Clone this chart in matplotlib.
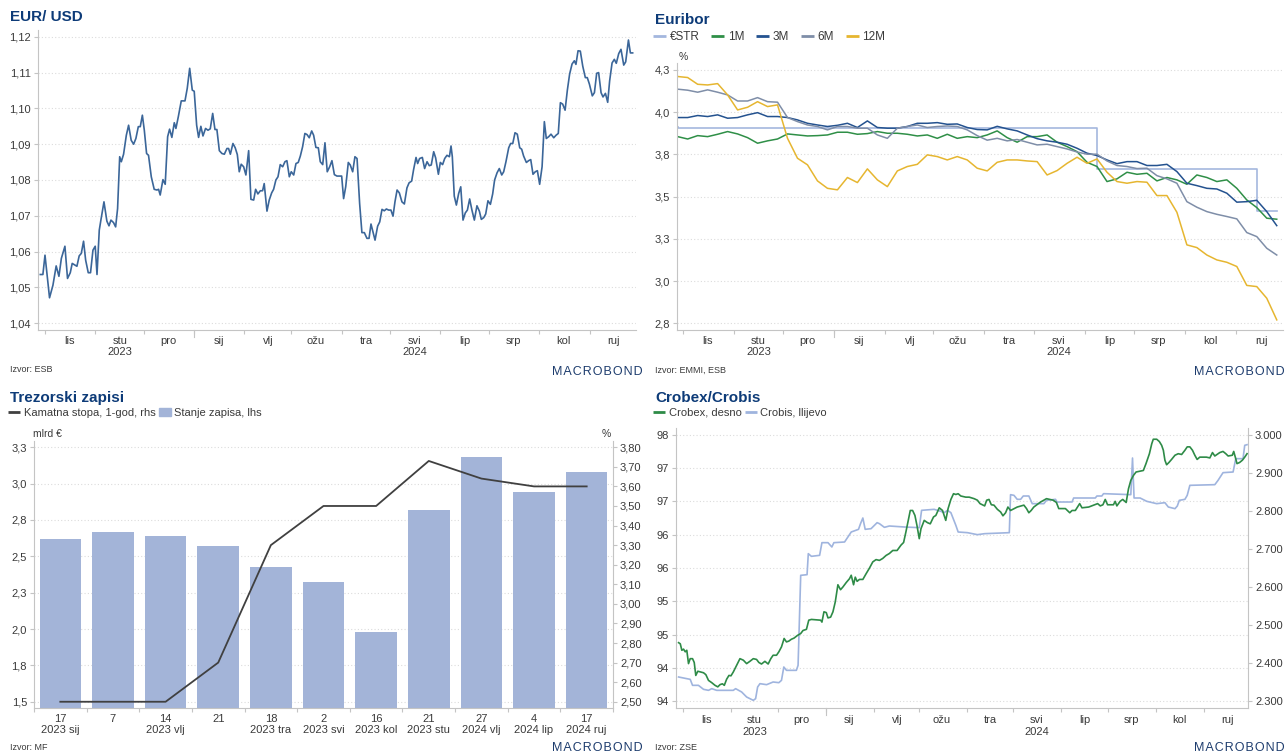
import numpy as np
import pandas as pd
import matplotlib
matplotlib.use("Agg")
import matplotlib.pyplot as plt
import matplotlib.dates as mdates
from matplotlib.lines import Line2D
from matplotlib.patches import Patch

plt.rcParams['font.family'] = ['Liberation Sans', 'DejaVu Sans']

# ---------------- data ----------------
month_labels = ['lis', 'stu\n2023', 'pro', 'sij', 'vlj', 'ožu', 'tra', 'svi\n2024',
                'lip', 'srp', 'kol', 'ruj']

# EUR/USD: (days after 2023-09-28, rate)
eur_usd = [
    (0.0, 1.0536), (1.6, 1.0536), (2.9, 1.0590), (5.7, 1.0471), (7.8, 1.0506), (9.8, 1.0560),
    (11.5, 1.0531), (13.0, 1.0581), (15.2, 1.0615), (16.8, 1.0525), (18.5, 1.0541), (19.7, 1.0567),
    (22.6, 1.0559), (24.0, 1.0588), (25.3, 1.0595), (26.7, 1.0629), (28.0, 1.0576), (29.6, 1.0541),
    (31.0, 1.0541), (32.5, 1.0604), (33.9, 1.0615), (35.0, 1.0536), (36.4, 1.0660), (37.4, 1.0688),
    (39.3, 1.0739), (41.1, 1.0685), (42.4, 1.0672), (43.6, 1.0688), (45.2, 1.0681), (46.5, 1.0669),
    (47.7, 1.0720), (49.0, 1.0865), (50.0, 1.0851), (51.4, 1.0872), (53.1, 1.0925), (54.5, 1.0953),
    (56.1, 1.0911), (57.6, 1.0900), (59.0, 1.0916), (60.5, 1.0949), (61.7, 1.0949), (63.0, 1.0981),
    (64.2, 1.0939), (65.6, 1.0874), (66.8, 1.0869), (68.5, 1.0809), (70.3, 1.0774), (72.0, 1.0772),
    (73.0, 1.0774), (74.0, 1.0758), (75.7, 1.0801), (77.1, 1.0788), (78.6, 1.0921), (79.8, 1.0942),
    (81.2, 1.0919), (82.7, 1.0960), (83.7, 1.0944), (85.2, 1.0977), (87.0, 1.1021), (89.3, 1.1021),
    (90.7, 1.1056), (92.2, 1.1112), (93.8, 1.1051), (95.0, 1.1048), (96.5, 1.0953), (97.7, 1.0919),
    (99.1, 1.0950), (100.4, 1.0923), (102.0, 1.0944), (103.5, 1.0939), (104.9, 1.0943), (106.4, 1.0986),
    (107.8, 1.0941), (109.0, 1.0941), (110.5, 1.0882), (112.1, 1.0874), (113.6, 1.0872), (115.2, 1.0888),
    (116.2, 1.0888), (117.3, 1.0872), (118.9, 1.0902), (120.3, 1.0890), (121.6, 1.0871), (122.8, 1.0823),
    (124.0, 1.0844), (125.5, 1.0837), (126.9, 1.0814), (128.6, 1.0882), (130.0, 1.0746), (131.7, 1.0744),
    (132.9, 1.0774), (134.3, 1.0761), (135.8, 1.0770), (137.2, 1.0770), (138.2, 1.0790), (139.9, 1.0713),
    (141.3, 1.0744), (142.8, 1.0764), (144.0, 1.0774), (145.4, 1.0800), (146.7, 1.0809), (148.1, 1.0843),
    (149.6, 1.0837), (151.0, 1.0851), (152.2, 1.0854), (153.7, 1.0809), (154.9, 1.0823), (156.4, 1.0814),
    (157.8, 1.0846), (159.2, 1.0849), (160.5, 1.0867), (161.9, 1.0893), (163.3, 1.0930), (164.6, 1.0927),
    (166.0, 1.0918), (167.5, 1.0937), (168.7, 1.0925), (170.1, 1.0891), (171.6, 1.0890), (172.8, 1.0851),
    (174.3, 1.0843), (175.7, 1.0904), (177.1, 1.0823), (178.6, 1.0837), (180.0, 1.0854), (181.5, 1.0815),
    (183.1, 1.0811), (186.0, 1.0811), (187.2, 1.0748), (188.5, 1.0781), (190.1, 1.0849), (191.3, 1.0842),
    (192.8, 1.0823), (194.2, 1.0865), (195.5, 1.0860), (197.1, 1.0734), (198.5, 1.0653), (200.0, 1.0653),
    (201.6, 1.0637), (202.9, 1.0637), (204.1, 1.0677), (205.3, 1.0655), (206.6, 1.0632), (208.2, 1.0671),
    (209.5, 1.0683), (210.9, 1.0718), (212.3, 1.0714), (213.6, 1.0719), (215.0, 1.0716), (216.4, 1.0716),
    (217.7, 1.0699), (218.9, 1.0739), (220.2, 1.0772), (221.6, 1.0764), (223.2, 1.0739), (224.7, 1.0733),
    (226.3, 1.0778), (227.6, 1.0792), (229.2, 1.0797), (230.4, 1.0829), (231.9, 1.0863), (232.9, 1.0846),
    (234.1, 1.0860), (235.8, 1.0863), (237.2, 1.0832), (238.7, 1.0851), (240.1, 1.0840), (241.3, 1.0842),
    (242.8, 1.0879), (244.0, 1.0862), (245.7, 1.0816), (246.9, 1.0849), (248.3, 1.0843), (249.6, 1.0860),
    (251.0, 1.0869), (252.5, 1.0865), (253.5, 1.0895), (254.3, 1.0865), (255.5, 1.0755), (256.8, 1.0730),
    (258.2, 1.0762), (259.5, 1.0781), (260.9, 1.0688), (262.3, 1.0708), (263.6, 1.0716), (265.0, 1.0747),
    (266.4, 1.0716), (267.9, 1.0688), (269.5, 1.0728), (271.0, 1.0713), (272.2, 1.0690), (273.7, 1.0695),
    (274.9, 1.0705), (276.3, 1.0742), (277.8, 1.0732), (279.2, 1.0761), (280.4, 1.0800), (281.9, 1.0820),
    (283.3, 1.0832), (284.8, 1.0814), (286.0, 1.0823), (287.4, 1.0851), (289.1, 1.0890), (290.3, 1.0902),
    (291.6, 1.0902), (293.0, 1.0932), (294.4, 1.0928), (295.9, 1.0890), (297.1, 1.0886), (298.3, 1.0867),
    (300.0, 1.0849), (301.4, 1.0854), (302.7, 1.0857), (304.1, 1.0816), (305.5, 1.0823), (306.8, 1.0826),
    (308.2, 1.0788), (309.7, 1.0837), (311.1, 1.0963), (312.3, 1.0916), (313.8, 1.0921), (315.2, 1.0928),
    (316.9, 1.0918), (318.3, 1.0925), (319.7, 1.0930), (321.0, 1.1016), (322.4, 1.1012), (323.9, 1.0995),
    (325.3, 1.1051), (326.7, 1.1096), (328.2, 1.1124), (329.6, 1.1133), (330.6, 1.1123), (331.9, 1.1161),
    (333.3, 1.1160), (334.8, 1.1118), (336.4, 1.1086), (337.6, 1.1086), (338.9, 1.1068), (340.7, 1.1035),
    (342.0, 1.1044), (343.4, 1.1098), (344.6, 1.1100), (346.1, 1.1044), (347.3, 1.1032), (348.8, 1.1042),
    (350.2, 1.1017), (351.4, 1.1077), (352.9, 1.1127), (354.3, 1.1137), (355.5, 1.1126), (357.0, 1.1153),
    (358.4, 1.1165), (360.1, 1.1121), (361.3, 1.1130), (363.0, 1.1191), (364.2, 1.1155), (365.6, 1.1155),
]

# Euribor, sampled roughly every 6 days between these dates (61 readings)
euribor_first, euribor_last = '2023-09-28', '2024-09-25 12:00'
estr = [3.910, 3.905, 3.905, 3.905, 3.905, 3.905, 3.905, 3.905, 3.905, 3.905, 3.905,
        3.905, 3.905, 3.905, 3.905, 3.905, 3.905, 3.905, 3.905, 3.905, 3.905, 3.905,
        3.905, 3.905, 3.905, 3.905, 3.905, 3.905, 3.905, 3.905, 3.905, 3.905, 3.905,
        3.905, 3.905, 3.905, 3.905, 3.905, 3.905, 3.905, 3.905, 3.905, 3.905, 3.664,
        3.664, 3.664, 3.664, 3.664, 3.664, 3.664, 3.664, 3.664, 3.664, 3.664, 3.664,
        3.664, 3.664, 3.664, 3.664, 3.415, 3.415]
eur1m = [3.855, 3.841, 3.861, 3.855, 3.869, 3.885, 3.871, 3.849, 3.816, 3.830, 3.841,
         3.871, 3.865, 3.859, 3.861, 3.865, 3.881, 3.881, 3.869, 3.873, 3.885, 3.875,
         3.875, 3.869, 3.859, 3.865, 3.845, 3.869, 3.845, 3.855, 3.849,
         3.865, 3.889, 3.849, 3.822, 3.855, 3.855, 3.865, 3.822, 3.796, 3.766, 3.703,
         3.678, 3.589, 3.605, 3.644, 3.632, 3.638, 3.593, 3.613, 3.599, 3.573, 3.628,
         3.613, 3.589, 3.599, 3.549, 3.480, 3.435, 3.372, 3.366]
eur3m = [3.968, 3.968, 3.980, 3.974, 3.984, 3.964, 3.968, 3.984, 3.997, 3.974, 3.974,
         3.968, 3.954, 3.934, 3.924, 3.915, 3.922, 3.934, 3.909, 3.948, 3.909, 3.905,
         3.905, 3.915, 3.934, 3.934, 3.938, 3.928, 3.930, 3.909, 3.897,
         3.895, 3.916, 3.901, 3.889, 3.865, 3.843, 3.830, 3.822, 3.810, 3.786, 3.757,
         3.743, 3.717, 3.695, 3.707, 3.707, 3.684, 3.684, 3.691, 3.648, 3.579, 3.565,
         3.549, 3.545, 3.520, 3.467, 3.470, 3.478, 3.411, 3.328]
eur6m = [4.136, 4.130, 4.118, 4.132, 4.118, 4.102, 4.066, 4.066, 4.086, 4.062, 4.059,
         3.968, 3.944, 3.924, 3.915, 3.895, 3.915, 3.915, 3.905, 3.905, 3.865, 3.845,
         3.905, 3.915, 3.924, 3.909, 3.915, 3.918, 3.915, 3.895, 3.861,
         3.834, 3.845, 3.830, 3.838, 3.822, 3.806, 3.810, 3.796, 3.782, 3.764, 3.751,
         3.751, 3.711, 3.684, 3.678, 3.666, 3.668, 3.624, 3.605, 3.579, 3.470, 3.437,
         3.411, 3.395, 3.382, 3.368, 3.287, 3.263, 3.194, 3.154]
eur12m = [4.211, 4.205, 4.165, 4.161, 4.169, 4.102, 4.013, 4.029, 4.062, 4.033, 4.043,
          3.845, 3.727, 3.688, 3.593, 3.549, 3.540, 3.613, 3.583, 3.664, 3.599, 3.559,
          3.652, 3.678, 3.691, 3.747, 3.737, 3.717, 3.737, 3.717, 3.668,
          3.652, 3.703, 3.717, 3.717, 3.711, 3.707, 3.628, 3.654, 3.697, 3.733, 3.697,
          3.723, 3.644, 3.589, 3.579, 3.589, 3.585, 3.506, 3.506, 3.407, 3.214, 3.198,
          3.154, 3.125, 3.111, 3.086, 2.974, 2.967, 2.898, 2.770]
euribor_names = ['€STR', '1M', '3M', '6M', '12M']

# Trezorski zapisi
bill_labels = ['17\n2023 sij', '7', '14\n2023 vlj', '21', '18\n2023 tra', '2\n2023 svi',
               '16\n2023 kol', '21\n2023 stu', '27\n2024 vlj', '4\n2024 lip', '17\n2024 ruj']
bill_stock = [2.62, 2.67, 2.64, 2.57, 2.43, 2.32, 1.98, 2.82, 3.18, 2.94, 3.08]   # mlrd EUR
bill_rate = [2.50, 2.50, 2.50, 2.70, 3.30, 3.50, 3.50, 3.73, 3.64, 3.60, 3.60]    # %

# Crobis (left) and Crobex (right): (days after 2023-09-28, value)
crobis = [
    (0.0, 94.365), (5.3, 94.34), (7.5, 94.33), (9.0, 94.24), (12.8, 94.24), (16.1, 94.18),
    (19.3, 94.165), (21.4, 94.19), (24.6, 94.165), (35.3, 94.165), (36.8, 94.19), (40.7, 94.14),
    (43.9, 94.065), (48.2, 94.015), (49.7, 94.04), (51.0, 94.215), (52.5, 94.265), (56.8, 94.25),
    (61.0, 94.29), (64.7, 94.28), (66.4, 94.315), (67.9, 94.515), (69.6, 94.465), (76.0, 94.465),
    (77.1, 94.54), (78.8, 95.89), (82.9, 95.90), (83.7, 96.215), (85.7, 96.175), (91.0, 96.19),
    (92.5, 96.38), (96.4, 96.38), (98.9, 96.315), (100.2, 96.38), (107.1, 96.39), (111.4, 96.54),
    (116.1, 96.58), (117.4, 96.665), (118.9, 96.75), (120.4, 96.58), (124.2, 96.59), (128.1, 96.68),
    (129.6, 96.665), (132.8, 96.61), (136.0, 96.63), (145.7, 96.615), (155.3, 96.605), (156.8, 96.865),
    (164.9, 96.88), (169.2, 96.85), (171.4, 96.83), (173.5, 96.865), (175.7, 96.83), (178.9, 96.64),
    (180.4, 96.54), (186.4, 96.53), (192.8, 96.50), (197.5, 96.515), (213.4, 96.53), (214.2, 97.10),
    (216.4, 97.09), (218.5, 97.03), (220.7, 97.03), (222.4, 97.08), (226.0, 97.08), (228.2, 96.965),
    (235.7, 96.965), (237.4, 97.015), (243.2, 97.03), (244.2, 96.99), (253.9, 96.99), (254.9, 97.05),
    (268.9, 97.05), (269.9, 97.08), (273.1, 97.08), (274.2, 97.115), (291.8, 97.10), (292.9, 97.65),
    (293.9, 97.05), (297.8, 97.05), (302.1, 97.00), (308.5, 96.965), (313.8, 96.98), (316.0, 96.915),
    (320.3, 96.89), (321.8, 96.93), (323.1, 97.015), (326.7, 97.03), (328.2, 97.09), (329.9, 97.24),
    (346.0, 97.25), (348.1, 97.315), (351.3, 97.43), (357.8, 97.44), (359.5, 97.64), (364.2, 97.64),
    (365.3, 97.84), (366.8, 97.85),
]
crobex = [
    (0.0, 2454), (1.1, 2451), (2.1, 2434), (3.2, 2437), (4.3, 2430), (5.3, 2434), (6.4, 2399),
    (7.5, 2412), (9.0, 2412), (10.1, 2402), (11.1, 2368), (12.4, 2379), (16.1, 2375), (17.6, 2370),
    (19.3, 2355), (21.4, 2349), (23.5, 2342), (25.3, 2338), (26.8, 2344), (28.3, 2346), (29.5, 2342),
    (31.0, 2358), (32.5, 2368), (33.8, 2367), (35.3, 2377), (37.5, 2395), (39.6, 2412), (41.8, 2408),
    (43.9, 2399), (46.0, 2405), (48.2, 2412), (50.3, 2410), (51.8, 2402), (53.5, 2398), (55.7, 2405),
    (57.8, 2398), (59.5, 2412), (61.0, 2421), (63.2, 2421), (64.7, 2430), (66.4, 2443), (68.1, 2465),
    (69.6, 2456), (71.1, 2458), (72.8, 2463), (74.5, 2466), (76.7, 2473), (78.8, 2478), (80.3, 2486),
    (82.5, 2489), (84.0, 2513), (85.7, 2515), (91.7, 2513), (92.5, 2508), (93.8, 2535), (95.3, 2533),
    (96.4, 2519), (98.1, 2521), (99.6, 2535), (101.1, 2561), (102.8, 2606), (104.5, 2593), (106.0, 2600),
    (108.2, 2612), (110.3, 2622), (111.4, 2631), (112.9, 2606), (114.0, 2626), (115.2, 2615), (116.7, 2620),
    (118.9, 2620), (121.0, 2635), (123.2, 2650), (125.3, 2666), (127.4, 2672), (129.6, 2670), (131.7, 2675),
    (133.9, 2683), (136.0, 2688), (138.2, 2696), (141.0, 2696), (143.5, 2710), (145.2, 2717), (146.7, 2745),
    (148.2, 2775), (149.5, 2801), (151.0, 2801), (152.5, 2788), (153.8, 2762), (155.3, 2727), (156.4, 2753),
    (158.5, 2775), (160.6, 2769), (162.4, 2766), (164.5, 2784), (166.0, 2788), (168.2, 2808), (170.3, 2801),
    (172.4, 2775), (173.9, 2806), (175.7, 2830), (177.4, 2845), (178.9, 2843), (180.4, 2845), (182.1, 2839),
    (185.3, 2836), (187.5, 2836), (190.7, 2832), (192.8, 2828), (194.5, 2819), (197.5, 2813), (198.8, 2828),
    (200.3, 2830), (201.8, 2816), (203.5, 2815), (205.7, 2804), (207.8, 2797), (209.3, 2787), (211.0, 2795),
    (212.5, 2810), (214.2, 2801), (218.5, 2810), (222.8, 2815), (224.5, 2806), (226.0, 2795), (227.5, 2801),
    (229.2, 2810), (233.5, 2823), (237.4, 2832), (241.7, 2828), (243.8, 2822), (245.3, 2806), (249.6, 2806),
    (252.4, 2795), (253.9, 2801), (256.0, 2801), (258.8, 2819), (260.3, 2808), (264.6, 2810), (270.4, 2819),
    (272.1, 2813), (273.8, 2816), (275.3, 2830), (276.8, 2816), (280.6, 2816), (281.7, 2825), (282.8, 2813),
    (284.9, 2825), (286.6, 2830), (288.8, 2822), (290.3, 2858), (291.8, 2880), (293.5, 2893), (295.2, 2902),
    (299.9, 2906), (301.6, 2924), (303.8, 2950), (305.3, 2976), (306.3, 2988), (308.5, 2988), (310.2, 2982),
    (311.7, 2972), (312.8, 2959), (313.8, 2933), (314.9, 2921), (316.4, 2927), (318.1, 2935), (320.3, 2946),
    (322.4, 2950), (324.6, 2948), (326.7, 2959), (328.2, 2968), (329.9, 2968), (331.6, 2959), (333.1, 2946),
    (334.6, 2935), (336.3, 2941), (340.6, 2941), (342.8, 2939), (344.5, 2953), (346.0, 2944), (349.2, 2953),
    (351.3, 2956), (353.1, 2950), (354.6, 2944), (357.3, 2946), (358.2, 2956), (359.5, 2937), (360.3, 2924),
    (362.0, 2927), (363.8, 2933), (365.3, 2941), (366.8, 2950),
]

# ---------------- styling ----------------
W, H = 1287, 753
TITLE = '#0d3b78'
TXT = '#3a3a3a'
SPINE = '#c4c4c4'
GRID = '#dcdcdc'
LOGO = '#1e3d6e'

fig = plt.figure(figsize=(W / 100, H / 100), dpi=100)


def add_ax(l, t, r, b):
    return fig.add_axes([l / W, 1 - b / H, (r - l) / W, (b - t) / H])


def ftext(x, y, s, **kw):
    fig.text(x / W, 1 - y / H, s, **kw)


def to_dates(start, days):
    return pd.Timestamp(start) + pd.to_timedelta(np.array(days), unit='D')


def base_style(ax, left=True):
    for s in ax.spines.values():
        s.set_visible(False)
    ax.spines['bottom'].set_visible(True)
    ax.spines['bottom'].set_color(SPINE)
    if left:
        ax.spines['left'].set_visible(True)
        ax.spines['left'].set_color(SPINE)
    ax.tick_params(axis='y', length=3, width=0.8, color=SPINE, labelsize=8, labelcolor=TXT, pad=2)
    ax.yaxis.grid(True, color=GRID, linestyle=(0, (1, 2)), linewidth=0.8)
    ax.set_axisbelow(True)


def date_axis(ax, lo, hi, pad, height_px):
    ax.set_xlim(pd.Timestamp(lo), pd.Timestamp(hi))
    starts = pd.date_range('2023-10-01', '2024-09-01', freq='MS')
    mids = starts + pd.Timedelta(days=15)
    ax.set_xticks(mdates.date2num(starts))
    ax.set_xticklabels([])
    ax.set_xticks(mdates.date2num(mids), minor=True)
    ax.set_xticklabels(month_labels, minor=True)
    ax.tick_params(axis='x', which='major', length=3, width=0.8, color=SPINE)
    ax.tick_params(axis='x', which='minor', length=0, pad=pad, labelsize=8, labelcolor=TXT)
    # longer tick at the year boundary
    jan = mdates.date2num(pd.Timestamp('2024-01-01'))
    ax.plot([jan, jan], [0, -7 / height_px], transform=ax.get_xaxis_transform(),
            color=SPINE, lw=0.8, clip_on=False)


def logo(x_right, y):
    ftext(x_right, y, 'M A C R O B O N D'.replace(' ', '\u200a'), ha='right', va='center',
          fontsize=9, color=LOGO)


# ---------------- EUR/USD ----------------
ax1 = add_ax(38, 30, 636, 330)
base_style(ax1)
d, v = zip(*eur_usd)
ax1.plot(to_dates('2023-09-28', d), v, color='#3b6699', lw=1.2)
eur_ticks = [1.04, 1.05, 1.06, 1.07, 1.08, 1.09, 1.10, 1.11, 1.12]
ax1.set_yticks(eur_ticks)
ax1.set_yticklabels([f'{t:.2f}'.replace('.', ',') for t in eur_ticks])
ax1.set_ylim(1.0381, 1.1219)
date_axis(ax1, '2023-09-26 14:00', '2024-09-29 16:00', 4, 300)
ftext(10, 17, 'EUR/ USD', fontsize=11, fontweight='bold', color=TITLE, va='center')
ftext(10, 370, 'Izvor: ESB', fontsize=6.5, color=TXT, va='center')
logo(643, 372)

# ---------------- Euribor ----------------
ax2 = add_ax(677, 63, 1283, 330)
base_style(ax2)
edates = pd.date_range(euribor_first, euribor_last, periods=len(eur1m))
euribor_colors = ['#a4b7de', '#2f8f47', '#24528f', '#7f8ea8', '#e6b630']
ax2.plot(edates, estr, color=euribor_colors[0], lw=1.2, drawstyle='steps-pre')
for vals, c in zip([eur1m, eur3m, eur6m, eur12m], euribor_colors[1:]):
    ax2.plot(edates, vals, color=c, lw=1.1)
eb_ticks = [2.75, 3.0, 3.25, 3.5, 3.75, 4.0, 4.25]
ax2.set_yticks(eb_ticks)
ax2.set_yticklabels(['2,8', '3,0', '3,3', '3,5', '3,8', '4,0', '4,3'])
ax2.set_ylim(2.71, 4.291)
date_axis(ax2, '2023-09-27 14:00', '2024-09-29 07:00', 4, 267)
ftext(655, 20, 'Euribor', fontsize=11, fontweight='bold', color=TITLE, va='center')
ftext(679, 57, '%', fontsize=7.5, color=TXT, va='center')
handles = [Line2D([], [], color=c, lw=2, solid_capstyle='butt') for c in euribor_colors]
fig.legend(handles, euribor_names, loc='center left', bbox_to_anchor=(653 / W, 1 - 37 / H),
           ncol=5, frameon=False, fontsize=8.5, handlelength=1.1, handletextpad=0.3,
           columnspacing=1.0, borderaxespad=0, borderpad=0, labelcolor=TXT)
ftext(655, 370, 'Izvor: EMMI, ESB', fontsize=6.5, color=TXT, va='center')
logo(1285, 372)

# ---------------- Trezorski zapisi ----------------
ax3 = add_ax(34, 441, 613, 708)
base_style(ax3)
ax3.spines['right'].set_visible(True)
ax3.spines['right'].set_color(SPINE)
xpos = np.arange(len(bill_stock))
ax3.bar(xpos, bill_stock, width=0.79, color='#a3b4d8', zorder=2)
stock_ticks = [1.5, 1.75, 2.0, 2.25, 2.5, 2.75, 3.0, 3.25]
ax3.set_yticks(stock_ticks)
ax3.set_yticklabels(['1,5', '1,8', '2,0', '2,3', '2,5', '2,8', '3,0', '3,3'])
lo3, hi3 = 1.457, 3.293
ax3.set_ylim(lo3, hi3)
ax3.set_xlim(-0.5, len(bill_stock) - 0.5)
ax3.set_xticks(np.arange(-0.5, len(bill_stock), 1.0))
ax3.set_xticklabels([])
ax3.set_xticks(xpos, minor=True)
ax3.set_xticklabels(bill_labels, minor=True)
ax3.tick_params(axis='x', which='major', length=3, width=0.8, color=SPINE)
ax3.tick_params(axis='x', which='minor', length=0, pad=4, labelsize=8, labelcolor=TXT)

ax3r = ax3.twinx()
for s in ax3r.spines.values():
    s.set_visible(False)
ax3r.plot(xpos, bill_rate, color='#404040', lw=1.3)
rate_ticks = [2.5, 2.6, 2.7, 2.8, 2.9, 3.0, 3.1, 3.2, 3.3, 3.4, 3.5, 3.6, 3.7, 3.8]
ax3r.set_yticks(rate_ticks)
ax3r.set_yticklabels([f'{t:.2f}'.replace('.', ',') for t in rate_ticks])
ax3r.set_ylim(2.5 + (lo3 - 1.5) * 1.3 / 1.75, 2.5 + (hi3 - 1.5) * 1.3 / 1.75)
ax3r.tick_params(axis='y', length=3, width=0.8, color=SPINE, labelsize=8, labelcolor=TXT, pad=2)
ftext(10, 398, 'Trezorski zapisi', fontsize=11, fontweight='bold', color=TITLE, va='center')
ftext(33, 434, 'mlrd €', fontsize=7.5, color=TXT, va='center')
ftext(611, 434, '%', fontsize=7.5, color=TXT, va='center', ha='right')
fig.legend([Line2D([], [], color='#404040', lw=2, solid_capstyle='butt'), Patch(color='#a3b4d8')],
           ['Kamatna stopa, 1-god, rhs', 'Stanje zapisa, lhs'],
           loc='center left', bbox_to_anchor=(8 / W, 1 - 413 / H), ncol=2, frameon=False,
           fontsize=8, handlelength=1.1, handleheight=0.8, handletextpad=0.3,
           columnspacing=0.3, borderaxespad=0, borderpad=0, labelcolor=TXT)
ftext(10, 747, 'Izvor: MF', fontsize=6.5, color=TXT, va='center')
logo(643, 748)

# ---------------- Crobex/Crobis ----------------
ax4 = add_ax(676, 428, 1248, 708)
base_style(ax4)
ax4.spines['right'].set_visible(True)
ax4.spines['right'].set_color(SPINE)
d, v = zip(*crobis)
ax4.plot(to_dates('2023-09-28', d), v, color='#9fb4de', lw=1.2)
cb_ticks = [94.0, 94.5, 95.0, 95.5, 96.0, 96.5, 97.0, 97.5, 98.0]
ax4.set_yticks(cb_ticks)
ax4.set_yticklabels(['94', '94', '95', '95', '96', '96', '97', '97', '98'])
ax4.set_ylim(93.9, 98.1)
date_axis(ax4, '2023-09-26 08:00', '2024-09-29 10:00', 5, 280)

ax4r = ax4.twinx()
for s in ax4r.spines.values():
    s.set_visible(False)
d, v = zip(*crobex)
ax4r.plot(to_dates('2023-09-28', d), v, color='#2e8b47', lw=1.2)
cx_ticks = [2300, 2400, 2500, 2600, 2700, 2800, 2900, 3000]
ax4r.set_yticks(cx_ticks)
ax4r.set_yticklabels([f'{t:,}'.replace(',', '.') for t in cx_ticks])
ax4r.set_ylim(2300 - 0.1 * 175, 3000 + 0.1 * 175)
ax4r.tick_params(axis='y', length=3, width=0.8, color=SPINE, labelsize=8, labelcolor=TXT, pad=2)
ftext(655, 398, 'Crobex/Crobis', fontsize=11, fontweight='bold', color=TITLE, va='center')
fig.legend([Line2D([], [], color='#2e8b47', lw=2, solid_capstyle='butt'),
            Line2D([], [], color='#9fb4de', lw=2, solid_capstyle='butt')],
           ['Crobex, desno', 'Crobis, llijevo'],
           loc='center left', bbox_to_anchor=(653 / W, 1 - 413 / H), ncol=2, frameon=False,
           fontsize=8, handlelength=1.1, handletextpad=0.3, columnspacing=0.3,
           borderaxespad=0, borderpad=0, labelcolor=TXT)
ftext(655, 747, 'Izvor: ZSE', fontsize=6.5, color=TXT, va='center')
logo(1285, 748)

fig.savefig('out.png', dpi=100)
